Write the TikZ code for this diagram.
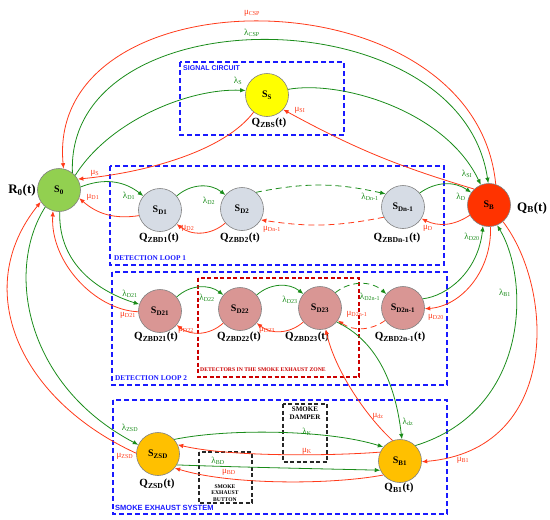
\documentclass[tikz,border=0pt]{standalone}
\usepackage{fontspec}
\setmainfont{Liberation Serif}
\newfontfamily\boxsans{Liberation Sans}
\usetikzlibrary{arrows.meta}
\definecolor{grn}{HTML}{1A8C1A}
\definecolor{redl}{HTML}{FF3A1A}
\definecolor{blueb}{HTML}{1A1AFF}
\definecolor{zonered}{HTML}{CC0000}
\definecolor{rim}{HTML}{808080}
\definecolor{s0col}{HTML}{92D050}
\definecolor{sscol}{HTML}{FFFF00}
\definecolor{sbcol}{HTML}{FF3300}
\definecolor{d1col}{HTML}{D6DCE5}
\definecolor{d2col}{HTML}{D99694}
\definecolor{smcol}{HTML}{FFC000}
\tikzset{
  st/.style={circle, draw=rim, line width=0.6pt, minimum size=43pt, inner sep=0pt,
    font=\bfseries\fontsize{10}{10}\selectfont},
  gline/.style={draw=grn, line width=0.8pt, -{Latex[length=5.5pt,width=4.5pt]}},
  rline/.style={draw=redl, line width=0.8pt, -{Latex[length=5.5pt,width=4.5pt]}},
  dsh/.style={dash pattern=on 6pt off 4pt},
  glab/.style={text=grn, inner sep=0pt, font=\fontsize{9}{9}\selectfont},
  rlab/.style={text=redl, inner sep=0pt, font=\fontsize{9}{9}\selectfont},
  qlab/.style={inner sep=0pt, font=\bfseries\fontsize{11}{11}\selectfont},
  biglab/.style={inner sep=0pt, font=\bfseries\fontsize{13}{13}\selectfont},
  zone/.style={draw=blueb, dash pattern=on 5pt off 3pt, line width=1.3pt},
  zonelab/.style={text=blueb, anchor=west, inner sep=0pt},
  subzone/.style={dash pattern=on 4pt off 2.5pt, line width=1.1pt},
  sublab/.style={inner sep=0pt, align=center, font=\bfseries\fontsize{7}{8}\selectfont}
}

\begin{document}
\begin{tikzpicture}[x=1pt,y=1pt]
  \useasboundingbox (0,0) rectangle (550,-520);

  % zones
  \draw[zone] (180,-62) rectangle (344,-135);
  \draw[zone] (110,-166) rectangle (444,-265);
  \draw[zone] (112,-272) rectangle (447,-385);
  \draw[zone] (113,-400) rectangle (447,-514);
  \draw[subzone, draw=zonered] (198,-278) rectangle (359,-377);
  \draw[subzone, draw=black!85] (199,-452) rectangle (252,-503);
  \draw[subzone, draw=black!85] (283,-404) rectangle (327,-462);
  \node[zonelab, font=\boxsans\bfseries\fontsize{7}{7}\selectfont] (tsig) at (183,-68) {SIGNAL CIRCUIT};
  \node[zonelab, font=\bfseries\fontsize{7.3}{7.3}\selectfont] (tloop1) at (114,-258) {DETECTION LOOP 1};
  \node[zonelab, font=\bfseries\fontsize{7.3}{7.3}\selectfont] (tloop2) at (115,-378) {DETECTION LOOP 2};
  \node[zonelab, font=\boxsans\bfseries\fontsize{7.5}{7.5}\selectfont] (tsmoke) at (115,-508) {SMOKE EXHAUST SYSTEM};
  \node[zonelab, text=zonered, font=\bfseries\fontsize{5.7}{5.7}\selectfont] (tzone) at (200,-370) {DETECTORS IN THE SMOKE EXHAUST ZONE};
  \node[sublab] (tdamper) at (305,-413) {SMOKE\\DAMPER};
  \node[sublab, font=\bfseries\fontsize{5.6}{6.5}\selectfont] (tbutton) at (225,-493) {SMOKE\\EXHAUST\\BUTTON};

  % states
  \node[st, fill=s0col] (S0) at (59,-190) {S\textsubscript{0}};
  \node[st, fill=sscol] (SS) at (267,-95) {S\textsubscript{S}};
  \node[st, fill=sbcol] (SB) at (489,-205) {S\textsubscript{B}};
  \node[st, fill=d1col] (SD1) at (160,-210) {S\textsubscript{D1}};
  \node[st, fill=d1col] (SD2) at (242,-209) {S\textsubscript{D2}};
  \node[st, fill=d1col] (SDn) at (403,-207) {S\textsubscript{Dn-1}};
  \node[st, fill=d2col] (SD21) at (160,-311) {S\textsubscript{D21}};
  \node[st, fill=d2col] (SD22) at (240,-309) {S\textsubscript{D22}};
  \node[st, fill=d2col] (SD23) at (320,-308) {S\textsubscript{D23}};
  \node[st, fill=d2col] (SD2n) at (403,-308) {S\textsubscript{D2n-1}};
  \node[st, fill=smcol] (SZSD) at (158,-454) {S\textsubscript{ZSD}};
  \node[st, fill=smcol] (SB1) at (400,-461) {S\textsubscript{B1}};

  \node[biglab] (R0) at (22,-190) {R\textsubscript{0}(t)};
  \node[biglab] (QB) at (532,-208) {Q\textsubscript{B}(t)};
  \node[qlab] (QS) at (269,-123) {Q\textsubscript{ZBS}(t)};
  \node[qlab] (Q1) at (159,-238) {Q\textsubscript{ZBD1}(t)};
  \node[qlab] (Q2) at (240,-238) {Q\textsubscript{ZBD2}(t)};
  \node[qlab] (Qn) at (397,-238) {Q\textsubscript{ZBDn-1}(t)};
  \node[qlab] (Q21) at (156,-337) {Q\textsubscript{ZBD21}(t)};
  \node[qlab] (Q22) at (239,-337) {Q\textsubscript{ZBD22}(t)};
  \node[qlab] (Q23) at (307,-337) {Q\textsubscript{ZBD23}(t)};
  \node[qlab] (Q2n) at (400,-337) {Q\textsubscript{ZBD2n-1}(t)};
  \node[qlab] (QZSD) at (157,-484) {Q\textsubscript{ZSD}(t)};
  \node[qlab] (QB1) at (399,-488) {Q\textsubscript{B1}(t)};

  % outer arcs and signal circuit
  \draw[rline] (SB.72) .. controls (475,30) and (45,30) .. (S0.78);
  \draw[gline] (S0.52) .. controls (65,6) and (460,6) .. (SB.92);
  \draw[gline] (S0.42) .. controls (110,-120) and (190,-88) .. (SS.168);
  \draw[gline] (SS.15) .. controls (340,-80) and (445,-110) .. (SB.112);
  \draw[rline] (SB.133) to[bend left=6] (SS.-42);
  \draw[rline] (SS.232) .. controls (225,-150) and (150,-172) .. (S0.30);

  % detection loop 1
  \draw[gline] (S0.8) to[bend left=30] (SD1.140);
  \draw[rline] (SD1.195) to[bend left=25] (S0.-22);
  \draw[gline] (SD1.40) to[bend left=40] (SD2.140);
  \draw[rline] (SD2.220) to[bend left=40] (SD1.-40);
  \draw[gline, dsh] (SD2.50) to[bend left=12] (SDn.143);
  \draw[rline, dsh] (SDn.208) to[bend left=10] (SD2.-30);
  \draw[gline] (SDn.40) to[bend left=35] (SB.145);
  \draw[rline] (SB.208) to[bend left=30] (SDn.-32);

  % detection loop 2
  \draw[gline] (S0.-88) .. controls (58,-265) and (100,-292) .. (SD21.162);
  \draw[rline] (SD21.182) .. controls (95,-310) and (50,-262) .. (S0.-106);
  \draw[gline] (SD21.40) to[bend left=40] (SD22.140);
  \draw[rline] (SD22.220) to[bend left=40] (SD21.-40);
  \draw[gline] (SD22.40) to[bend left=40] (SD23.140);
  \draw[rline] (SD23.220) to[bend left=40] (SD22.-40);
  \draw[gline, dsh] (SD23.45) to[bend left=40] (SD2n.140);
  \draw[rline, dsh] (SD2n.215) to[bend left=35] (SD23.-35);
  \draw[gline] (SD2n.25) .. controls (447,-296) and (478,-272) .. (SB.-106);
  \draw[rline] (SB.-86) .. controls (492,-270) and (462,-306) .. (SD2n.-2);

  % smoke exhaust system
  \draw[rline] (SZSD.178) .. controls (20,-400) and (-30,-290) .. (S0.213);
  \draw[gline] (S0.231) .. controls (5,-270) and (25,-385) .. (SZSD.155);
  \draw[gline] (SZSD.42) .. controls (230,-428) and (330,-430) .. (SB1.140);
  \draw[rline] (SB1.156) .. controls (330,-456) and (230,-457) .. (SZSD.25);
  \draw[gline] (SZSD.-30) .. controls (230,-467) and (330,-469) .. (SB1.205);
  \draw[rline] (SB1.220) .. controls (330,-485) and (230,-485) .. (SZSD.-40);
  \draw[gline] (SD23.-40) .. controls (375,-340) and (395,-380) .. (SB1.85);
  \draw[rline] (SB1.110) .. controls (365,-415) and (335,-370) .. (SD23.-75);
  \draw[gline] (SB1.45) .. controls (530,-410) and (530,-280) .. (SB.-68);
  \draw[rline] (SB.-50) .. controls (555,-290) and (560,-450) .. (SB1.-2);

  % rates
  \node[rlab] (mCSP) at (252,-13) {μ\textsubscript{CSP}};
  \node[glab] (lCSP) at (252,-33) {λ\textsubscript{CSP}};
  \node[glab] (lS) at (238,-81) {λ\textsubscript{S}};
  \node[rlab] (mSI) at (300,-110) {μ\textsubscript{SI}};
  \node[glab] (lSI) at (467,-174) {λ\textsubscript{SI}};
  \node[rlab] (mS) at (95,-173) {μ\textsubscript{S}};
  \node[glab] (lD1) at (129,-196) {λ\textsubscript{D1}};
  \node[rlab] (mD1) at (93,-197) {μ\textsubscript{D1}};
  \node[glab] (lD2) at (209,-201) {λ\textsubscript{D2}};
  \node[rlab] (mD2) at (188,-228) {μ\textsubscript{D2}};
  \node[glab] (lDn) at (370,-197) {λ\textsubscript{Dn-1}};
  \node[rlab] (mDn) at (272,-229) {μ\textsubscript{Dn-1}};
  \node[glab] (lD) at (461,-197) {λ\textsubscript{D}};
  \node[rlab] (mD) at (428,-228) {μ\textsubscript{D}};
  \node[glab] (lD21) at (130,-294) {λ\textsubscript{D21}};
  \node[rlab] (mD21) at (128,-315) {μ\textsubscript{D21}};
  \node[glab] (lD22) at (207,-298) {λ\textsubscript{D22}};
  \node[rlab] (mD22) at (186,-330) {μ\textsubscript{D22}};
  \node[glab] (lD23) at (290,-300) {λ\textsubscript{D23}};
  \node[rlab] (mD23) at (267,-330) {μ\textsubscript{D23}};
  \node[glab] (lD2n) at (370,-297) {λ\textsubscript{D2n-1}};
  \node[rlab] (mD2n) at (357,-314) {μ\textsubscript{D2n-1}};
  \node[glab] (lD20) at (472,-237) {λ\textsubscript{D20}};
  \node[rlab] (mD20) at (436,-317) {μ\textsubscript{D20}};
  \node[glab] (lZSD) at (130,-428) {λ\textsubscript{ZSD}};
  \node[rlab] (mZSD) at (125,-456) {μ\textsubscript{ZSD}};
  \node[glab] (lK) at (307,-432) {λ\textsubscript{K}};
  \node[rlab] (mK) at (307,-451) {μ\textsubscript{K}};
  \node[glab] (lBD) at (218,-461) {λ\textsubscript{BD}};
  \node[rlab] (mBD) at (229,-472) {μ\textsubscript{BD}};
  \node[glab] (ldz) at (408,-422) {λ\textsubscript{dz}};
  \node[rlab] (mdz) at (378,-416) {μ\textsubscript{dz}};
  \node[glab] (lB1) at (505,-293) {λ\textsubscript{B1}};
  \node[rlab] (mB1) at (463,-460) {μ\textsubscript{B1}};
\end{tikzpicture}
\end{document}
